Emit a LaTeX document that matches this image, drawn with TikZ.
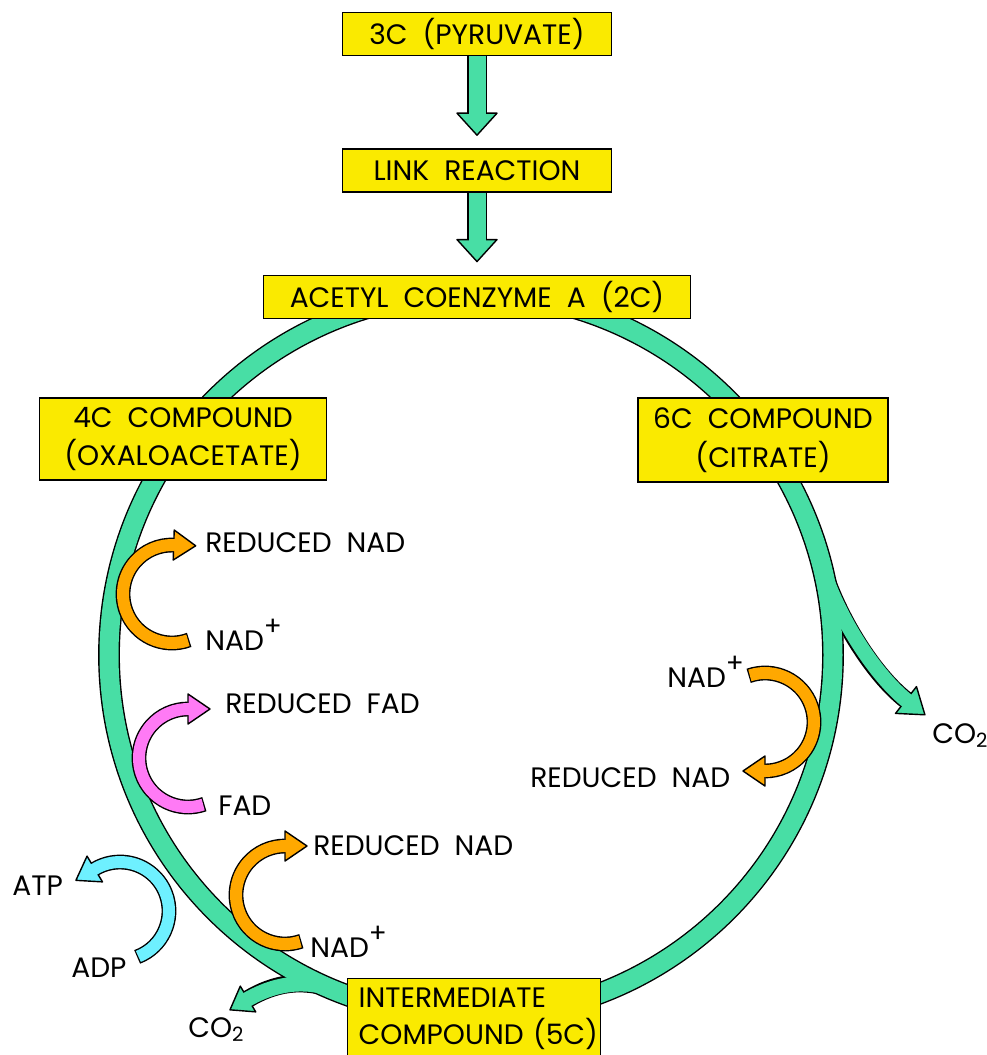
\documentclass[tikz,border=0pt]{standalone}
\usepackage{fontspec}
\setmainfont[WordSpace=2]{Poppins}
\usetikzlibrary{calc,positioning,backgrounds}
\definecolor{cyclegreen}{RGB}{72,222,165}
\definecolor{boxyellow}{RGB}{250,234,0}
\definecolor{nadorange}{RGB}{255,168,0}
\definecolor{fadpink}{RGB}{255,122,245}
\definecolor{atpcyan}{RGB}{110,240,255}
\tikzset{
stage/.style={draw,fill=boxyellow,line width=0.8pt,inner sep=0pt,
    minimum height=0.86cm,align=center,
    font=\fontsize{16}{22}\selectfont},
molecule/.style={anchor=base west,inner sep=0pt,
    font=\fontsize{16}{19}\selectfont},
rim/.style={line width=#1+1.6pt,draw=black},
core/.style={line width=#1,draw=cyclegreen},
headfill/.style={fill=#1,draw=black,line width=0.8pt,line join=round},
}
\newcommand{\ionplus}{\raisebox{8pt}{\fontsize{15}{15}\selectfont+}}
% curved arrow round a centre: centre, from angle, to angle, colour
\newcommand{\turnarrow}[4]{%
  \pgfmathsetmacro\tsgn{sign(#3-#2)}
  \pgfmathsetmacro\tailang{#2-1.5*\tsgn}
  \pgfmathsetmacro\tipdir{#3+90*\tsgn}
  \pgfmathsetmacro\tend{#3+2.5*\tsgn}
  \draw[rim=0.24cm] ($(#1)+(\tailang:49)$) arc[start angle=\tailang,end angle=#3,radius=49];
  \draw[headfill=#4] ($(#1)+(#3:34)$) -- ($(#1)+(#3:49)+(\tipdir:22)$) -- ($(#1)+(#3:64)$) -- cycle;
  \draw[line width=0.24cm,#4] ($(#1)+(#2:49)$) arc[start angle=#2,end angle=\tend,radius=49];
}
% straight block arrow from one box down to the next
\newcommand{\feedarrow}[2]{%
  \coordinate (feedtip) at ($(#2.north)+(0,-13)$);
  \draw[rim=0.34cm] (#1.south) -- ($(feedtip)+(0,-22)$);
  \draw[headfill=cyclegreen] ($(feedtip)+(-20,-22)$) -- (feedtip) -- ($(feedtip)+(20,-22)$) -- cycle;
  \draw[core=0.34cm] (#1.south) -- ($(feedtip)+(0,-19)$);
}
\begin{document}
\begin{tikzpicture}[x=0.02cm,y=-0.02cm]
\useasboundingbox (0,0) rectangle (987,1055);

    \node[stage,minimum width=5.38cm] (pyruvate) at (477,34) {3C (PYRUVATE)};
    \node[stage,minimum width=5.38cm,below=1.84cm of pyruvate] (link) {LINK REACTION};
    \node[stage,minimum width=8.54cm,below=1.64cm of link] (acetyl) {ACETYL COENZYME A (2C)};
    \node[stage,minimum width=5.74cm,minimum height=1.64cm] (oxalo) at (183,439) {4C COMPOUND\\(OXALOACETATE)};
    \node[stage,minimum width=5cm,minimum height=1.68cm] (citrate) at (763,440) {6C COMPOUND\\(CITRATE)};
    \node[stage,anchor=north west,minimum height=1.6cm,text width=4.62cm,inner xsep=0.22cm,align=left,
        font=\fontsize{16}{21}\selectfont] (interm) at (347,978) {\mbox{INTERMEDIATE}\\\mbox{COMPOUND (5C)}};

    \node[molecule] (rednad1) at (205,552) {REDUCED NAD};
    \node[molecule] (nad1) at (205,650) {NAD\ionplus};
    \node[molecule] (redfad) at (225,713) {REDUCED FAD};
    \node[molecule] (fad) at (218,815) {FAD};
    \node[molecule] (rednad2) at (313,855) {REDUCED NAD};
    \node[molecule] (nad2) at (310,957) {NAD\ionplus};
    \node[molecule] (atp) at (12,895) {ATP};
    \node[molecule] (adp) at (71,977) {ADP};
    \node[molecule] (co2l) at (188,1037) {CO\textsubscript{2}};
    \node[molecule] (nad3) at (667,687) {NAD\ionplus};
    \node[molecule] (rednad3) at (530,787) {REDUCED NAD};
    \node[molecule] (co2r) at (932,743) {CO\textsubscript{2}};

    \coordinate (hub) at (471,655);
    \coordinate (rbase) at (906,700);
    \coordinate (lbase) at (248,999);
    \coordinate (nadturn1) at (172,594);
    \coordinate (fadturn) at (188,758);
    \coordinate (nadturn2) at (285,895);
    \coordinate (nadturn3) at (765,722);
    \coordinate (atpturn) at (120,911);

\begin{pgfonlayer}{background}
    \fill[white] (0,0) rectangle (987,1055);
    % the cycle with its two CO2 branches
    \draw[rim=0.38cm] (hub) circle[radius=362];
    \draw[rim=0.3cm] ($(hub)+(-15:362)$) .. controls +(75:50) and +(218:45) .. (rbase);
    \draw[rim=0.3cm] ($(hub)+(112:362)$) .. controls +(202:35) and +(329:30) .. (lbase);
    \draw[headfill=cyclegreen] ($(rbase)+(128:17)$) -- ($(rbase)+(38:24)$) -- ($(rbase)+(-52:17)$) -- cycle;
    \draw[headfill=cyclegreen] ($(lbase)+(239:15)$) -- ($(lbase)+(149:21)$) -- ($(lbase)+(59:15)$) -- cycle;
    \draw[core=0.38cm] (hub) circle[radius=362];
    \draw[core=0.3cm] ($(hub)+(-15:362)$) .. controls +(75:50) and +(218:45) .. ($(rbase)+(38:3)$);
    \draw[core=0.3cm] ($(hub)+(112:362)$) .. controls +(202:35) and +(329:30) .. ($(lbase)+(149:3)$);

    \feedarrow{pyruvate}{link}
    \feedarrow{link}{acetyl}

    \turnarrow{nadturn1}{71}{272}{nadorange}
    \turnarrow{fadturn}{72}{270}{fadpink}
    \turnarrow{nadturn2}{72}{270}{nadorange}
    \turnarrow{nadturn3}{252}{450}{nadorange}
    \turnarrow{atpturn}{68}{-121}{atpcyan}
\end{pgfonlayer}
\end{tikzpicture}
\end{document}
